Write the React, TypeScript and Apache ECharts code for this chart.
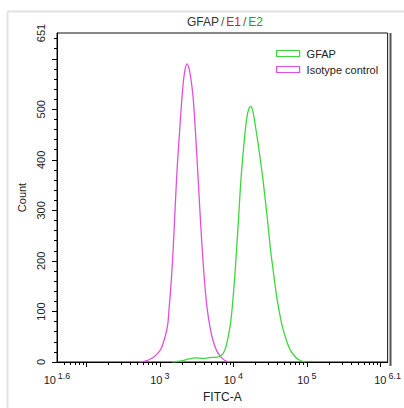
import React, { useEffect, useRef } from "react";
import * as echarts from "echarts";

// FITC-A intensity (linear units) and event counts
const isotypeFITC = [527, 615, 789, 922, 1045, 1183, 1279, 1341, 1426, 1517, 1614, 1718, 1828, 1945, 2070, 2203, 2344, 2494, 2654, 2825, 3006, 3199, 3404, 3622, 3855, 4111, 4375, 4798, 5272, 5970, 6761, 7656, 8937];
const isotypeCount = [0, 1, 8, 16, 27, 51, 74, 109, 158, 223, 305, 383, 442, 500, 549, 579, 590, 581, 559, 526, 471, 403, 334, 264, 203, 149, 109, 70, 43, 21.5, 10, 3, 0];

const gfapFITC = [1472, 1945, 2494, 3006, 3855, 4954, 6353, 7194, 7895, 8531, 9225, 9817, 10448, 11118, 11832, 12592, 13400, 14260, 15177, 16150, 17187, 18290, 19465, 20715, 22045, 23460, 24967, 26570, 28275, 30091, 32025, 34085, 36270, 38599, 42364, 46452, 52723, 59704, 69711, 81460, 95060];
const gfapCount = [0, 2, 6, 8, 7, 9, 10, 16, 29, 51, 80, 119, 168, 227, 289, 354, 403, 446, 481, 500, 506, 499, 477, 452, 426, 397, 368, 334, 299, 262, 223, 192, 162, 133, 98, 70, 43, 23.5, 10, 3, 0];

// Axis ticks / labels (x in log10 exponent space)
const xMinExp = 1.6;
const xMaxExp = 6.1;
const xLabelExps = [1.6, 3, 4, 5, 6.1];
const xMajorExps = [2, 3, 4, 5, 6];
const yMax = 651;
const yLabels = [0, 100, 200, 300, 400, 500, 651];
const yMajor = [0, 100, 200, 300, 400, 500, 600];

const seriesNames = ["GFAP", "Isotype control"];
const GREEN = "#3cd83c";
const MAGENTA = "#e050e0";
const FONT = "Liberation Sans, Arial, sans-serif";

export default function App() {
  const ref = useRef<HTMLDivElement>(null);

  useEffect(() => {
    if (!ref.current) return;
    const chart = echarts.init(ref.current, null, { renderer: "svg" });

    const xMinor: number[] = [];
    for (let n = 1; n <= 6; n++) {
      for (let k = 2; k <= 9; k++) {
        const e = Math.log10(k * Math.pow(10, n));
        if (e > xMinExp + 0.01 && e < xMaxExp - 0.001) xMinor.push(e);
      }
    }
    const yMinor: number[] = [];
    for (let v = 20; v < yMax; v += 20) if (v % 100 !== 0) yMinor.push(v);

    const toPairs = (xs: number[], ys: number[]) => xs.map((x, i) => [Math.log10(x), ys[i]]);

    const xFmt = (v: number) => {
      const s = Math.abs(v - Math.round(v)) < 1e-6 ? String(Math.round(v)) : v.toFixed(1);
      return `{b|10}{s|${s}}`;
    };

    chart.setOption({
      animation: false,
      textStyle: { fontFamily: FONT },
      title: {
        left: 182,
        top: 11,
        text: "{a|GFAP}{s|/}{r|E1}{s|/}{g|E2}",
        textStyle: {
          fontWeight: "normal",
          rich: {
            a: { fontSize: 12, color: "#333", fontFamily: FONT, fontWeight: "normal" },
            s: { fontSize: 12, color: "#555", fontFamily: FONT, fontWeight: "normal", padding: [0, 2, 0, 2] },
            r: { fontSize: 12, color: "#e01818", fontFamily: FONT, fontWeight: "normal" },
            g: { fontSize: 12, color: "#1aa51a", fontFamily: FONT, fontWeight: "normal" },
          },
        },
      },
      graphic: [
        { type: "line", shape: { x1: 7.5, y1: 11.5, x2: 404, y2: 11.5 }, style: { stroke: "#e2e2e2", lineWidth: 2 } },
        { type: "line", shape: { x1: 7.5, y1: 11.5, x2: 7.5, y2: 408 }, style: { stroke: "#e2e2e2", lineWidth: 2 } },
        { type: "line", z: 10, shape: { x1: 390.5, y1: 33, x2: 390.5, y2: 366 }, style: { stroke: "#555", lineWidth: 2 } },
      ],
      legend: {
        orient: "vertical",
        left: 271,
        top: 43,
        icon: "rect",
        itemWidth: 23,
        itemHeight: 6,
        itemGap: 5,
        textStyle: { fontSize: 11, color: "#222", fontFamily: FONT, padding: [0, 0, 0, 2] },
        data: [
          { name: seriesNames[0], itemStyle: { color: "#fff", borderColor: GREEN, borderWidth: 1.2 } },
          { name: seriesNames[1], itemStyle: { color: "#fff", borderColor: MAGENTA, borderWidth: 1.2 } },
        ],
      },
      grid: {
        left: 57,
        top: 33,
        right: 14,
        bottom: 42,
        show: true,
        borderColor: "#111",
        borderWidth: 1,
        backgroundColor: "transparent",
      },
      xAxis: [
        {
          type: "value",
          position: "bottom",
          min: xMinExp,
          max: xMaxExp,
          name: "FITC-A",
          nameLocation: "middle",
          nameGap: 29,
          nameTextStyle: { fontSize: 12, color: "#222", fontFamily: FONT },
          axisLine: { show: true, lineStyle: { color: "#000", width: 1 } },
          axisTick: { show: true, customValues: xMajorExps, length: 5, lineStyle: { color: "#000" } },
          axisLabel: {
            customValues: xLabelExps,
            margin: 9,
            formatter: xFmt,
            rich: {
              b: { fontSize: 11, color: "#222", fontFamily: FONT, lineHeight: 14, verticalAlign: "bottom" },
              s: { fontSize: 9, color: "#222", fontFamily: FONT, lineHeight: 9, verticalAlign: "top", padding: [0, 0, 0, 2] },
            },
          },
          splitLine: { show: false },
        },
        {
          type: "value",
          position: "bottom",
          min: xMinExp,
          max: xMaxExp,
          axisLine: { show: false },
          axisTick: { show: true, customValues: xMinor, length: 3, lineStyle: { color: "#000" } },
          axisLabel: { show: false },
          splitLine: { show: false },
        },
      ],
      yAxis: [
        {
          type: "value",
          position: "left",
          min: 0,
          max: yMax,
          name: "Count",
          nameLocation: "middle",
          nameGap: 30,
          nameTextStyle: { fontSize: 11, color: "#222", fontFamily: FONT },
          axisLine: { show: true, lineStyle: { color: "#000", width: 1 } },
          axisTick: { show: true, customValues: yMajor, length: 5, lineStyle: { color: "#000" } },
          axisLabel: {
            customValues: yLabels,
            rotate: 90,
            margin: 11,
            fontSize: 11,
            color: "#222",
            fontFamily: FONT,
          },
          splitLine: { show: false },
        },
        {
          type: "value",
          position: "left",
          min: 0,
          max: yMax,
          axisLine: { show: false },
          axisTick: { show: true, customValues: yMinor, length: 3, lineStyle: { color: "#000" } },
          axisLabel: { show: false },
          splitLine: { show: false },
        },
      ],
      series: [
        {
          name: seriesNames[0],
          type: "line",
          xAxisIndex: 0,
          yAxisIndex: 0,
          data: toPairs(gfapFITC, gfapCount),
          showSymbol: false,
          smooth: 0.3,
          lineStyle: { color: GREEN, width: 1.3 },
          itemStyle: { color: GREEN },
          z: 3,
        },
        {
          name: seriesNames[1],
          type: "line",
          xAxisIndex: 0,
          yAxisIndex: 0,
          data: toPairs(isotypeFITC, isotypeCount),
          showSymbol: false,
          smooth: 0.3,
          lineStyle: { color: MAGENTA, width: 1.3 },
          itemStyle: { color: MAGENTA },
          z: 2,
        },
      ],
    });

    return () => chart.dispose();
  }, []);

  return (
    <div
      ref={ref}
      style={{ position: "fixed", left: 0, top: 0, width: 404, height: 408, background: "#fff" }}
    />
  );
}
